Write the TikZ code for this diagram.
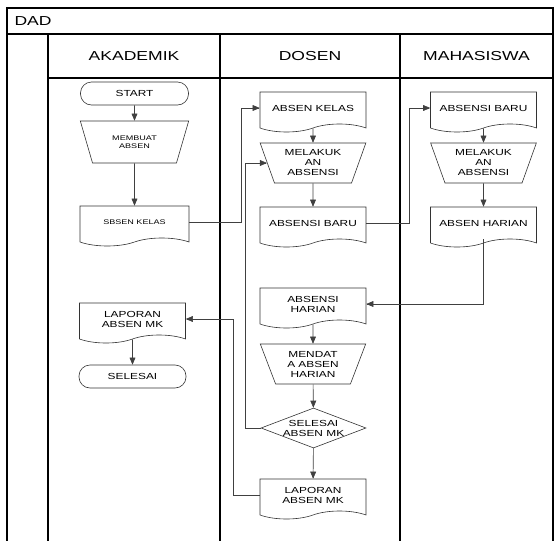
\documentclass[tikz,border=0pt]{standalone}
\usepackage{fontspec}
\setmainfont{Liberation Sans}[FakeStretch=1.35]
\usetikzlibrary{arrows,shapes.geometric,shapes.symbols}

\newcommand{\hdsize}{\fontsize{13}{15}\selectfont}
\newcommand{\boxsize}{\fontsize{8.8}{10}\selectfont}
\newcommand{\tinysize}{\fontsize{6.7}{7.5}\selectfont}

\tikzset{
	lane/.style={line width=1.2pt,draw=black},
	flow/.style={draw=black!80,line width=0.6pt},
	terminal/.style={flow,rectangle,rounded corners=11pt,minimum width=108pt,minimum height=23pt,font=\boxsize},
	manual/.style={flow,trapezium,trapezium stretches=true,trapezium left angle=112,trapezium right angle=112,minimum width=106pt,minimum height=40pt,align=center,font=\boxsize,inner sep=0pt},
	document/.style={flow,tape,tape bend top=none,tape bend bottom=in and out,tape bend height=8pt,minimum width=106pt,minimum height=40pt,align=center,font=\boxsize},
	decision/.style={flow,diamond,aspect=2.6,minimum width=105pt,minimum height=40pt,align=center,font=\boxsize,inner sep=0pt},
	conn/.style={draw=black!75,line width=0.6pt}
}

\begin{document}
\begin{tikzpicture}[x=1pt,y=-1pt,>=triangle 45]
	\useasboundingbox (0,0) rectangle (555,541);
	\draw[lane] (7,541) -- (7,8) -- (553,8) -- (553,541);
	\draw[lane] (7,34) -- (553,34);
	\draw[lane] (48,78) -- (553,78);
	\foreach \x in {48,220,400}
		\draw[lane] (\x,34) -- (\x,541);
	\node[font=\hdsize,anchor=west] (dad) at (11,21) {DAD};
	\foreach \x/\name/\lbl in {134/akd/AKADEMIK,310/dsn/DOSEN,476.5/mhs/MAHASISWA}
		\node[font=\hdsize] (\name) at (\x,56) {\lbl};

	% akademik
	\node[terminal] (start) at (134.5,93.5) {START};
	\node[manual,font=\tinysize,trapezium left angle=118,trapezium right angle=118,minimum width=109pt,minimum height=42pt] (buat) at (134.5,142) {MEMBUAT\\ABSEN};
	\node[document,font=\tinysize,minimum width=109pt] (sbsen) at (134.5,222) {SBSEN KELAS};
	\node[document] (lapakd) at (132.5,319) {LAPORAN\\ABSEN MK};
	\node[terminal,minimum width=107pt] (selesai) at (132.5,376.5) {SELESAI};

	% dosen
	\node[document] (kelas) at (313,108) {ABSEN KELAS};
	\node[manual] (lakudsn) at (313,163) {MELAKUK\\AN\\ABSENSI};
	\node[document] (barudsn) at (313,223) {ABSENSI BARU};
	\node[document] (harian) at (313,304) {ABSENSI\\HARIAN};
	\node[manual] (mendata) at (313,364) {MENDAT\\A ABSEN\\HARIAN};
	\node[decision] (cek) at (313.5,428) {SELESAI\\ABSEN MK};
	\node[document] (lapdsn) at (313,495) {LAPORAN\\ABSEN MK};

	% mahasiswa
	\node[document] (barumhs) at (483.5,108) {ABSENSI BARU};
	\node[manual] (lakumhs) at (483.5,163) {MELAKUK\\AN\\ABSENSI};
	\node[document] (harianmhs) at (483.5,223) {ABSEN HARIAN};

	\draw[conn,->] (start) -- (buat);
	\draw[conn,->] (buat) -- (sbsen);
	\draw[conn,->] (sbsen.east) -- ++(52,0) |- (kelas.west);
	\draw[conn,->] (kelas) -- (lakudsn);
	\draw[conn,->] (lakudsn) -- (barudsn);
	\draw[conn,->] (barudsn.east) -- ++(43,0) |- (barumhs.west);
	\draw[conn,->] (barumhs) -- (lakumhs);
	\draw[conn,->] (lakumhs) -- (harianmhs);
	\draw[conn,->] (harianmhs.south) |- (harian.east);
	\draw[conn,->] (harian) -- (mendata);
	\draw[conn,->] (mendata) -- (cek);
	\draw[conn,->] (cek) -- (lapdsn);
	\draw[conn,->] (cek.west) -- ++(-15,0) |- (lakudsn.west);
	\draw[conn,->] (lapdsn.west) -- ++(-26,0) |- (lapakd.east);
	\draw[conn,->] (lapakd) -- (selesai);
\end{tikzpicture}
\end{document}
